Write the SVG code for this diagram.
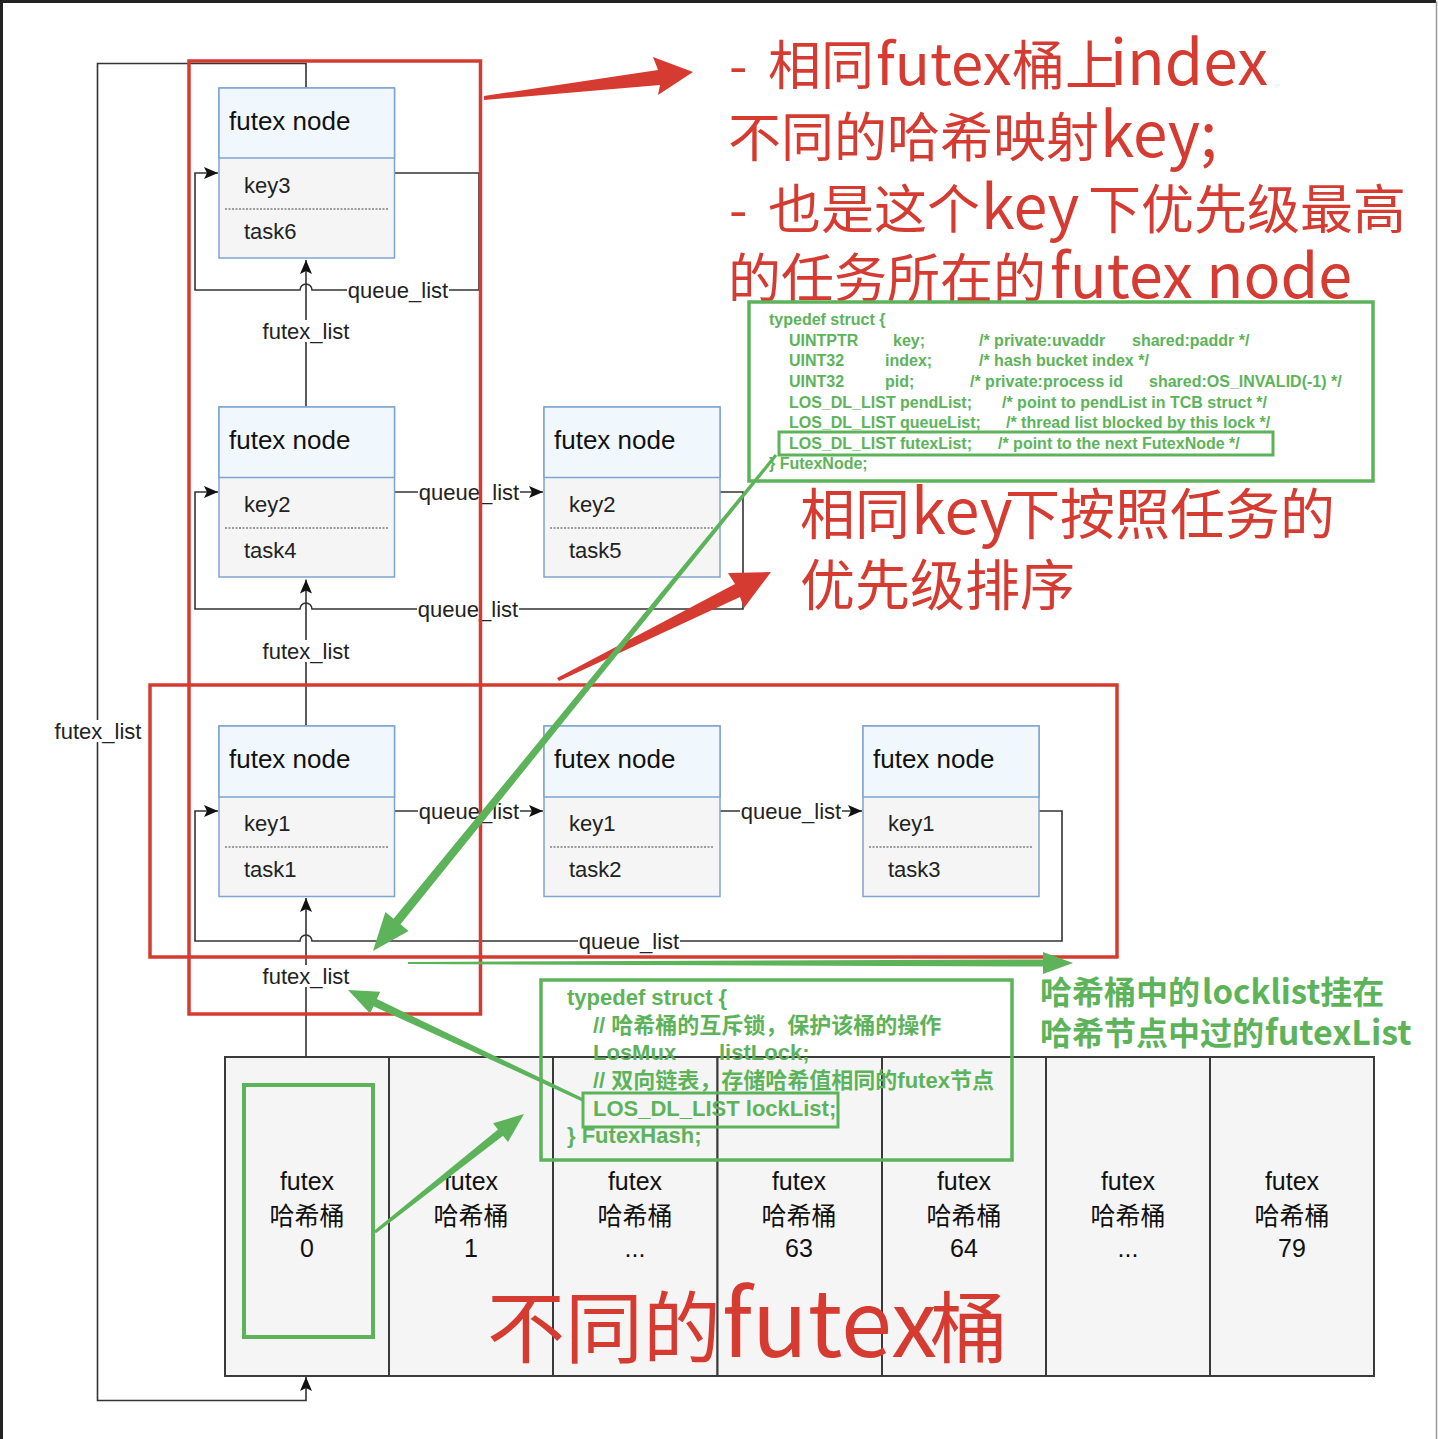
<svg xmlns="http://www.w3.org/2000/svg" width="1438" height="1439" viewBox="0 0 1438 1439">
<defs>
<marker id="arr" markerUnits="userSpaceOnUse" markerWidth="14" markerHeight="12" viewBox="0 0 14 12" refX="14" refY="6" orient="auto">
<path d="M0,0 L14,6 L0,12 L3,6 Z" fill="#111"/>
</marker>
</defs>
<style>
.cn{fill:none;stroke:#333;stroke-width:1.6}
.lbg{fill:#fff}
.lbl{font-family:"Liberation Sans",Arial,sans-serif;font-size:22px;fill:#222;text-anchor:middle}
.hd{fill:#f0f7fd;stroke:#7ea4cf;stroke-width:1.5}
.bd{fill:#f5f5f5;stroke:#7ea4cf;stroke-width:1.5}
.nt{font-family:"Liberation Sans",Arial,sans-serif;font-size:26px;fill:#111}
.ft{font-family:"Liberation Sans",Arial,sans-serif;font-size:22px;fill:#222}
.dash{stroke:#444;stroke-width:1.2;stroke-dasharray:2 1.5}
.bk{fill:#f5f5f5;stroke:#3a3a3a;stroke-width:2}
.bt{font-family:"Liberation Sans","Noto Sans CJK SC",sans-serif;font-size:25px;fill:#111;text-anchor:middle}
.red{fill:none;stroke:#d63b31;stroke-width:3.5}
.rf{fill:#d63b31}
.rt{font-family:"Noto Sans CJK SC",sans-serif;fill:#d63b31;font-weight:400}
.gb{fill:none;stroke:#5db35a;stroke-width:3.5}
.gf{fill:#5db35a}
.gt{font-family:"Liberation Sans","Noto Sans CJK SC",sans-serif;font-weight:bold;fill:#5db35a}
.gc{font-family:"Noto Sans CJK SC",sans-serif;font-weight:bold;fill:#5db35a}
</style>
<rect x="0" y="0" width="1438" height="1439" fill="#fff"/>
<path d="M1.5,1439 V1.5 H1436" fill="none" stroke="#222" stroke-width="3"/>
<path d="M1436.5,1.5 V1439" fill="none" stroke="#999" stroke-width="1.5"/>

<g id="bucket-0"><rect class="bk" x="225" y="1057" width="164" height="319"/><text class="bt" x="307" y="1190">futex</text><text class="bt" x="307" y="1225">哈希桶</text><text class="bt" x="307" y="1257">0</text></g>
<g id="bucket-1"><rect class="bk" x="389" y="1057" width="164" height="319"/><text class="bt" x="471" y="1190">futex</text><text class="bt" x="471" y="1225">哈希桶</text><text class="bt" x="471" y="1257">1</text></g>
<g id="bucket-2"><rect class="bk" x="553" y="1057" width="164.5" height="319"/><text class="bt" x="635" y="1190">futex</text><text class="bt" x="635" y="1225">哈希桶</text><text class="bt" x="635" y="1257">...</text></g>
<g id="bucket-63"><rect class="bk" x="717.5" y="1057" width="164.5" height="319"/><text class="bt" x="799" y="1190">futex</text><text class="bt" x="799" y="1225">哈希桶</text><text class="bt" x="799" y="1257">63</text></g>
<g id="bucket-64"><rect class="bk" x="882" y="1057" width="164" height="319"/><text class="bt" x="964" y="1190">futex</text><text class="bt" x="964" y="1225">哈希桶</text><text class="bt" x="964" y="1257">64</text></g>
<g id="bucket-x"><rect class="bk" x="1046" y="1057" width="164" height="319"/><text class="bt" x="1128" y="1190">futex</text><text class="bt" x="1128" y="1225">哈希桶</text><text class="bt" x="1128" y="1257">...</text></g>
<g id="bucket-79"><rect class="bk" x="1210" y="1057" width="164" height="319"/><text class="bt" x="1292" y="1190">futex</text><text class="bt" x="1292" y="1225">哈希桶</text><text class="bt" x="1292" y="1257">79</text></g>

<g id="connectors">
<path class="cn" d="M306,88 V63.5 H97.5 V1400.5 H306 V1377" marker-end="url(#arr)"/>
<path class="cn" d="M306,1057 V898" marker-end="url(#arr)"/>
<path class="cn" d="M306,726 V579.5" marker-end="url(#arr)"/>
<path class="cn" d="M306,407 V260" marker-end="url(#arr)"/>
<path class="cn" d="M394.5,173 H479 V290 H312 A6,6 0 0 0 300,290 H195 V173 H218" marker-end="url(#arr)"/>
<path class="cn" d="M394.5,492 H543" marker-end="url(#arr)"/>
<path class="cn" d="M720,492 H743 V609 H312 A6,6 0 0 0 300,609 H195 V492 H218" marker-end="url(#arr)"/>
<path class="cn" d="M394.5,811 H543" marker-end="url(#arr)"/>
<path class="cn" d="M720,811 H862" marker-end="url(#arr)"/>
<path class="cn" d="M1039,811 H1062 V941 H312 A6,6 0 0 0 300,941 H195 V811 H218" marker-end="url(#arr)"/>
<rect class="lbg" x="53" y="720" width="90" height="22"/><text class="lbl" x="98" y="739">futex_list</text>
<rect class="lbg" x="261" y="965" width="90" height="22"/><text class="lbl" x="306" y="984">futex_list</text>
<rect class="lbg" x="261" y="640" width="90" height="22"/><text class="lbl" x="306" y="659">futex_list</text>
<rect class="lbg" x="261" y="320" width="90" height="22"/><text class="lbl" x="306" y="339">futex_list</text>
<rect class="lbg" x="347" y="279" width="102" height="22"/><text class="lbl" x="398" y="298">queue_list</text>
<rect class="lbg" x="418" y="481" width="102" height="22"/><text class="lbl" x="469" y="500">queue_list</text>
<rect class="lbg" x="417" y="598" width="102" height="22"/><text class="lbl" x="468" y="617">queue_list</text>
<rect class="lbg" x="418" y="800" width="102" height="22"/><text class="lbl" x="469" y="819">queue_list</text>
<rect class="lbg" x="740" y="800" width="102" height="22"/><text class="lbl" x="791" y="819">queue_list</text>
<rect class="lbg" x="578" y="930" width="102" height="22"/><text class="lbl" x="629" y="949">queue_list</text>
</g>

<g id="node-key3-task6"><rect class="bd" x="219" y="88" width="175.5" height="170"/><rect class="hd" x="219" y="88" width="175.5" height="70"/><line class="dash" x1="225" y1="209" x2="388" y2="209"/><text class="nt" x="229" y="130">futex node</text><text class="ft" x="244" y="193">key3</text><text class="ft" x="244" y="239">task6</text></g>
<g id="node-key2-task4"><rect class="bd" x="219" y="407" width="175.5" height="170"/><rect class="hd" x="219" y="407" width="175.5" height="70.5"/><line class="dash" x1="225" y1="528" x2="388" y2="528"/><text class="nt" x="229" y="449">futex node</text><text class="ft" x="244" y="512">key2</text><text class="ft" x="244" y="558">task4</text></g>
<g id="node-key2-task5"><rect class="bd" x="544" y="407" width="176" height="170"/><rect class="hd" x="544" y="407" width="176" height="70.5"/><line class="dash" x1="550" y1="528" x2="714" y2="528"/><text class="nt" x="554" y="449">futex node</text><text class="ft" x="569" y="512">key2</text><text class="ft" x="569" y="558">task5</text></g>
<g id="node-key1-task1"><rect class="bd" x="219" y="726" width="175.5" height="170.5"/><rect class="hd" x="219" y="726" width="175.5" height="71"/><line class="dash" x1="225" y1="847" x2="388" y2="847"/><text class="nt" x="229" y="768">futex node</text><text class="ft" x="244" y="831">key1</text><text class="ft" x="244" y="877">task1</text></g>
<g id="node-key1-task2"><rect class="bd" x="544" y="726" width="176" height="170.5"/><rect class="hd" x="544" y="726" width="176" height="71"/><line class="dash" x1="550" y1="847" x2="714" y2="847"/><text class="nt" x="554" y="768">futex node</text><text class="ft" x="569" y="831">key1</text><text class="ft" x="569" y="877">task2</text></g>
<g id="node-key1-task3"><rect class="bd" x="863" y="726" width="176" height="170.5"/><rect class="hd" x="863" y="726" width="176" height="71"/><line class="dash" x1="869" y1="847" x2="1033" y2="847"/><text class="nt" x="873" y="768">futex node</text><text class="ft" x="888" y="831">key1</text><text class="ft" x="888" y="877">task3</text></g>

<g id="red-annotations">
<rect class="red" x="189" y="61" width="291.5" height="953"/>
<rect class="red" x="150" y="685" width="967" height="272"/>
<polygon class="rf" points="484,96 658,70 653,57 693,72 658,95 660,85 484,100"/>
<polygon class="rf" points="557,678 735,584 728,573 771,572 744,608 740,597 559,681"/>
<text class="rt" style="font-size:53px" y="85"><tspan x="729">- </tspan><tspan x="768">相同</tspan><tspan x="876" style="font-size:58px">futex</tspan><tspan x="1012">桶上</tspan><tspan x="1110" style="font-size:62px">index</tspan></text>
<text class="rt" style="font-size:53px" y="157"><tspan x="728">不同的哈希映射</tspan><tspan x="1100" style="font-size:62px">key;</tspan></text>
<text class="rt" style="font-size:53px" y="229"><tspan x="729">- </tspan><tspan x="768">也是这个</tspan><tspan x="981" style="font-size:61px">key</tspan><tspan x="1088">下优先级最高</tspan></text>
<text class="rt" style="font-size:53px" y="298"><tspan x="728">的任务所在的</tspan><tspan x="1050" style="font-size:61px">futex node</tspan></text>
<text class="rt" style="font-size:55px" y="534"><tspan x="800">相同</tspan><tspan x="911" style="font-size:63px">key</tspan><tspan x="1005">下按照任务的</tspan></text>
<text class="rt" style="font-size:55px" x="800" y="605">优先级排序</text>
<text class="rt" style="font-size:78px" y="1357"><tspan x="487">不同的</tspan><tspan x="722" style="font-size:92px">futex</tspan><tspan x="930">桶</tspan></text>
</g>

<g id="futexnode-struct">
<rect class="gb" x="749" y="302" width="624" height="179"/>
<rect class="gb" x="779" y="432" width="494" height="23" style="stroke-width:3"/>
<g class="gt" style="font-size:16px">
<text x="769" y="325">typedef struct {</text>
<text y="346"><tspan x="789">UINTPTR</tspan><tspan x="893">key;</tspan><tspan x="979">/* private:uvaddr</tspan><tspan x="1132">shared:paddr */</tspan></text>
<text y="366"><tspan x="789">UINT32</tspan><tspan x="885">index;</tspan><tspan x="979">/* hash bucket index */</tspan></text>
<text y="387"><tspan x="789">UINT32</tspan><tspan x="885">pid;</tspan><tspan x="970">/* private:process id</tspan><tspan x="1149">shared:OS_INVALID(-1) */</tspan></text>
<text y="408"><tspan x="789">LOS_DL_LIST</tspan><tspan x="900">pendList;</tspan><tspan x="1002">/* point to pendList in TCB struct */</tspan></text>
<text y="428"><tspan x="789">LOS_DL_LIST</tspan><tspan x="900">queueList;</tspan><tspan x="1006">/* thread list blocked by this lock */</tspan></text>
<text y="449"><tspan x="789">LOS_DL_LIST</tspan><tspan x="900">futexList;</tspan><tspan x="998">/* point to the next FutexNode */</tspan></text>
<text x="769" y="469">} FutexNode;</text>
</g>
</g>

<g id="futexhash-struct">
<rect class="gb" x="541" y="980" width="471" height="180"/>
<rect class="gb" x="583" y="1093" width="255" height="34" style="stroke-width:3"/>
<g class="gt" style="font-size:22px">
<text x="567" y="1005">typedef struct {</text>
<text x="593" y="1033">// 哈希桶的互斥锁，保护该桶的操作</text>
<text y="1060"><tspan x="593">LosMux</tspan><tspan x="719">listLock;</tspan></text>
<text x="593" y="1088">// 双向链表，存储哈希值相同的futex节点</text>
<text x="593" y="1116">LOS_DL_LIST lockList;</text>
<text x="567" y="1143">} FutexHash;</text>
</g>
</g>

<g id="green-annotations">
<rect class="gb" x="244" y="1085" width="129" height="252" style="stroke-width:4"/>
<polygon class="gf" points="777.2,456 400.5,924.3 408.6,931 373,951 385.4,912 393.5,918.7 774.8,454.1"/>
<polygon class="gf" points="408,962 1043,959.5 1043,952 1073,963 1043,974 1043,966.5 408,964"/>
<polygon class="gf" points="583.6,1098.6 376.9,999.1 380.3,991.8 348,990 370.1,1013.6 373.5,1006.3 582.4,1101.4"/>
<polygon class="gf" points="375.9,1233.2 503,1135.7 508,1142 524,1114 493,1123.2 498,1129.5 374.1,1230.8"/>
<text class="gc" style="font-size:32px" y="1004"><tspan x="1040">哈希桶中的</tspan><tspan x="1202" style="font-size:33px">locklist</tspan><tspan>挂在</tspan></text>
<text class="gc" style="font-size:32px" y="1045"><tspan x="1040">哈希节点中过的</tspan><tspan x="1265" style="font-size:34px">futexList</tspan></text>
</g>
</svg>
